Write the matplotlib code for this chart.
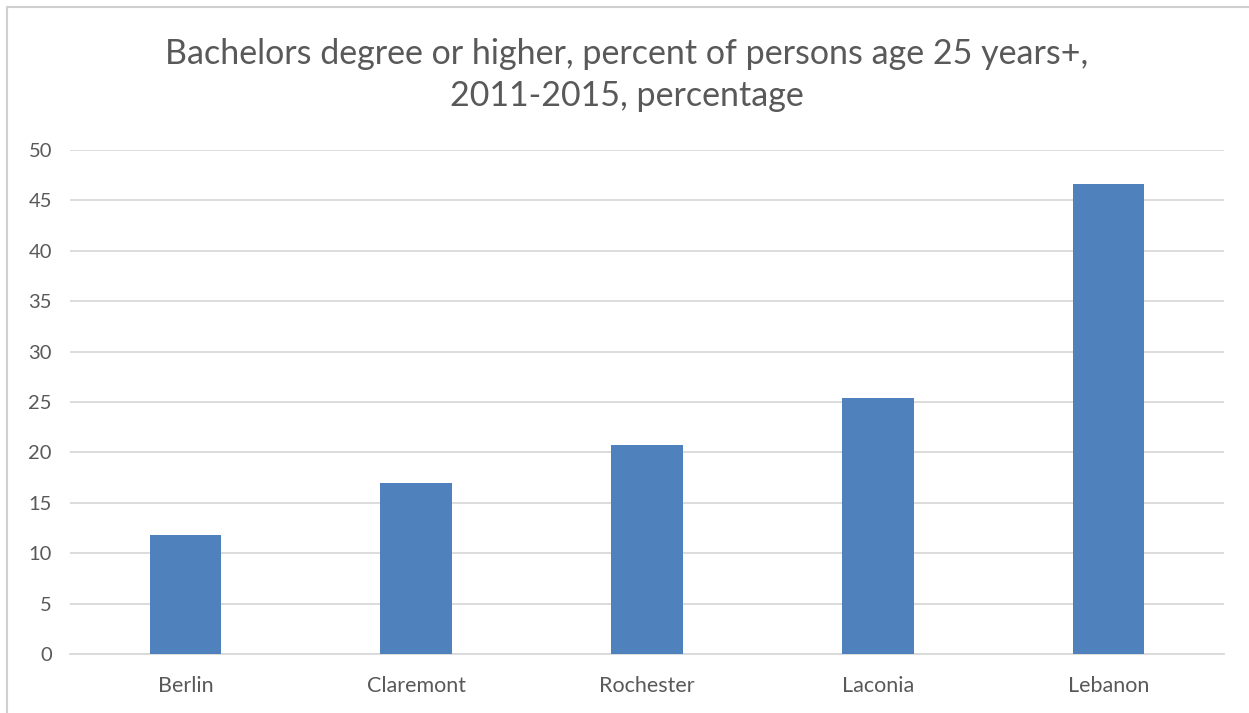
import matplotlib
matplotlib.use("Agg")
import matplotlib.pyplot as plt
from matplotlib.patches import Rectangle

# Data
towns = ["Berlin", "Claremont", "Rochester", "Laconia", "Lebanon"]
pct_bachelors = [11.8, 17.0, 20.7, 25.4, 46.6]
y_ticks = [0, 5, 10, 15, 20, 25, 30, 35, 40, 45, 50]
title = "Bachelors degree or higher, percent of persons age 25 years+,\n2011-2015, percentage"

W, H = 1249, 713
plt.rcParams["font.family"] = ["Lato", "DejaVu Sans"]
text_color = "#595959"
bar_color = "#4F81BD"
grid_color = "#D9D9D9"

fig = plt.figure(figsize=(W / 100, H / 100), dpi=100)
fig.patch.set_facecolor("white")

# Thin outer chart frame
fig.patches.append(Rectangle((7 / W, -0.01), 1.0, 1 - 7 / H + 0.01,
                             transform=fig.transFigure, fill=False,
                             edgecolor="#D0D0D0", linewidth=1.5))

ax = fig.add_axes([70 / W, 1 - 654 / H, (1224 - 70) / W, (654 - 150) / H])
x = range(len(towns))
ax.bar(x, pct_bachelors, width=0.31, color=bar_color, zorder=3)

ax.set_xlim(-0.5, len(towns) - 0.5)
ax.set_ylim(0, 50)
ax.set_yticks(y_ticks)
ax.set_xticks(list(x))
ax.set_xticklabels(towns)
ax.yaxis.grid(True, color=grid_color, linewidth=1.3, zorder=0)
ax.set_axisbelow(True)
for s in ["top", "right", "left"]:
    ax.spines[s].set_visible(False)
ax.spines["bottom"].set_color(grid_color)
ax.spines["bottom"].set_linewidth(1.3)
ax.tick_params(axis="both", length=0, labelcolor=text_color)
ax.tick_params(axis="y", pad=13, labelsize=14.5)
ax.tick_params(axis="x", pad=16, labelsize=15.5)

fig.text(627 / W, 1 - 75 / H, title, ha="center", va="center",
         fontsize=24.5, color=text_color, linespacing=1.42)

fig.savefig("out.png", dpi=100)
